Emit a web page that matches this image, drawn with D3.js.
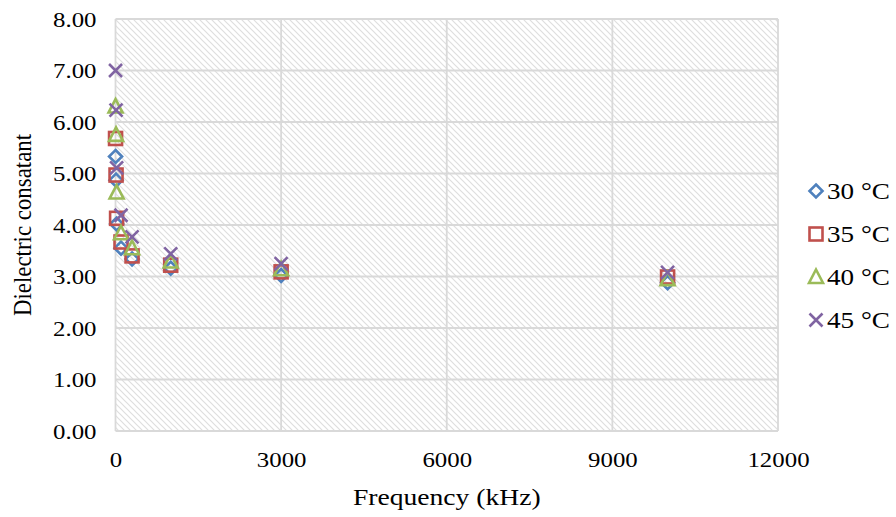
<!DOCTYPE html>
<html><head><meta charset="utf-8">
<script src="https://cdn.jsdelivr.net/npm/d3@7"></script>
<style>body{margin:0;background:#fff}svg{display:block}</style>
</head><body>
<svg id="c" width="896" height="517"></svg>
<script>
const frequencies = [1, 10, 20, 100, 300, 1000, 3000, 10000];
const seriesNames = ["30 °C", "35 °C", "40 °C", "45 °C"];
const s30 = [5.33, 4.87, 4.02, 3.55, 3.34, 3.16, 3.02, 2.88];
const s35 = [5.68, 4.97, 4.13, 3.67, 3.40, 3.22, 3.09, 2.99];
const s40 = [6.30, 5.75, 4.63, 3.84, 3.55, 3.29, 3.14, 2.95];
const s45 = [7.00, 6.23, 5.11, 4.19, 3.77, 3.44, 3.25, 3.08];
const xTicks = [0, 3000, 6000, 9000, 12000];
const yTicks = [0, 1, 2, 3, 4, 5, 6, 7, 8];
const colors = ["#4F81BD", "#C0504D", "#9BBB59", "#8064A2"];
const shapes = ["diamond", "square", "triangle", "x"];
const allSeries = [s30, s35, s40, s45];

const svg = d3.select("#c");
const font = "'Liberation Serif','Times New Roman',serif";
const SX = 1.13;
const L = 115.5, R = 778, T = 19, B = 431;
const x = d3.scaleLinear().domain([0, 12000]).range([L, R]);
const y = d3.scaleLinear().domain([0, 8]).range([B, T]);

const defs = svg.append("defs");
const pat = defs.append("pattern").attr("id", "hatch").attr("patternUnits", "userSpaceOnUse")
  .attr("width", 6).attr("height", 6);
pat.append("path").attr("d", "M0,0L6,6M-1,5L1,7M5,-1L7,1")
  .attr("stroke", "#dedede").attr("stroke-width", 1.2).attr("fill", "none");

svg.append("rect").attr("x", L).attr("y", T).attr("width", R - L).attr("height", B - T)
  .attr("fill", "url(#hatch)");

// gridlines
svg.append("g").selectAll("line").data(yTicks).join("line")
  .attr("x1", L).attr("x2", R).attr("y1", d => y(d)).attr("y2", d => y(d))
  .attr("stroke", "#d9d9d9").attr("stroke-width", 1.8);
svg.append("g").selectAll("line").data(xTicks).join("line")
  .attr("y1", T).attr("y2", B).attr("x1", d => x(d)).attr("x2", d => x(d))
  .attr("stroke", "#d9d9d9").attr("stroke-width", 1.8);

// axes (labels only)
const yAxis = d3.axisLeft(y).tickValues(yTicks).tickFormat(d3.format(".2f")).tickSize(0).tickPadding(19);
const gy = svg.append("g").attr("transform", `translate(${L},0)`).call(yAxis);
gy.select(".domain").remove();
gy.selectAll("text").attr("font-family", font).attr("font-size", 22).attr("fill", "#000")
  .attr("x", -19 / SX).attr("transform", `scale(${SX},1)`);

const xAxis = d3.axisBottom(x).tickValues(xTicks).tickFormat(d3.format("d")).tickSize(0).tickPadding(20);
const gx = svg.append("g").attr("transform", `translate(0,${B})`).call(xAxis);
gx.select(".domain").remove();
gx.selectAll("text").attr("font-family", font).attr("font-size", 22).attr("fill", "#000")
  .attr("transform", `scale(${SX},1)`);

svg.append("text").attr("transform", `translate(${x(6000)},505) scale(1.15,1)`).attr("text-anchor", "middle")
  .attr("font-family", font).attr("font-size", 24).text("Frequency (kHz)");
svg.append("text").attr("transform", `translate(31,${(T + B) / 2}) rotate(-90) scale(1.04,1.12)`).attr("text-anchor", "middle")
  .attr("font-family", font).attr("font-size", 22).text("Dielectric consatant");

function marker(g, shape, color) {
  if (shape === "diamond") {
    g.append("path").attr("d", "M0,-6.5L6.5,0L0,6.5L-6.5,0Z").attr("fill", "none").attr("stroke", color).attr("stroke-width", 2.6);
  } else if (shape === "square") {
    g.append("rect").attr("x", -6.5).attr("y", -6.5).attr("width", 13).attr("height", 13)
      .attr("fill", "none").attr("stroke", color).attr("stroke-width", 2.6);
  } else if (shape === "triangle") {
    g.append("path").attr("d", "M0,-7.5L7,6L-7,6Z").attr("fill", "none").attr("stroke", color).attr("stroke-width", 2.6);
  } else {
    g.append("path").attr("d", "M-6.5,-6.5L6.5,6.5M-6.5,6.5L6.5,-6.5").attr("fill", "none").attr("stroke", color).attr("stroke-width", 2.6);
  }
}

allSeries.forEach((vals, si) => {
  const g = svg.append("g");
  vals.forEach((v, i) => {
    const m = g.append("g").attr("transform", `translate(${x(frequencies[i])},${y(v)})`);
    marker(m, shapes[si], colors[si]);
  });
});

// legend
const legY = [191, 234, 277, 320];
seriesNames.forEach((name, i) => {
  const m = svg.append("g").attr("transform", `translate(816,${legY[i]})`);
  marker(m, shapes[i], colors[i]);
  svg.append("text").attr("transform", `translate(827,${legY[i] + 8}) scale(1.18,1)`).attr("font-family", font)
    .attr("font-size", 23).text(name);
});
</script>
</body></html>
